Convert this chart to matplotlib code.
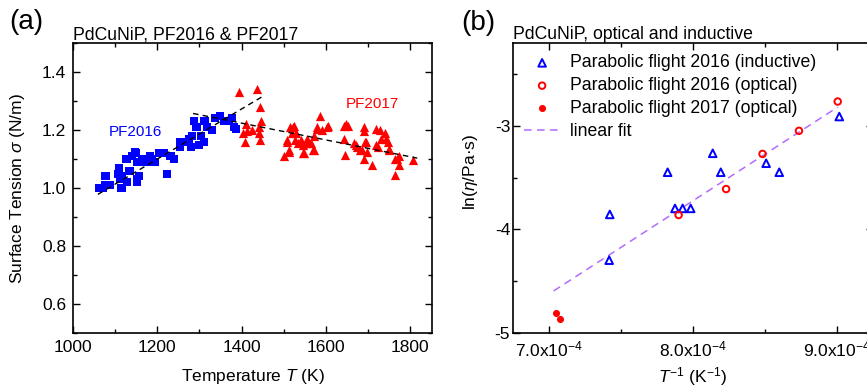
import matplotlib
matplotlib.use("Agg")
import matplotlib.pyplot as plt
from matplotlib.ticker import MultipleLocator, FuncFormatter

plt.rcParams['font.family'] = ['Liberation Sans', 'DejaVu Sans']
plt.rcParams['mathtext.fontset'] = 'custom'
plt.rcParams['mathtext.rm'] = 'Liberation Sans'
plt.rcParams['mathtext.it'] = 'Liberation Sans:italic'
plt.rcParams['font.size'] = 12.5

# --- panel (a): surface tension, PF2016 (blue) and PF2017 (red)
T_2016 = [1062, 1072, 1079, 1088, 1064, 1076, 1076, 1088, 1107, 1109, 1113, 1117,
          1108, 1112, 1116, 1125, 1129, 1133, 1128, 1136, 1141, 1149, 1148, 1152,
          1152, 1153, 1157, 1160, 1163, 1168, 1178, 1183, 1188, 1194, 1204, 1207,
          1216, 1224, 1223, 1231, 1232, 1240, 1254, 1255, 1255, 1267, 1275, 1275,
          1279, 1283, 1287, 1291, 1295, 1299, 1303, 1311, 1312, 1314, 1318, 1330,
          1338, 1350, 1358, 1366, 1370, 1378, 1382, 1386]
sigma_2016 = [1.00, 1.00, 1.04, 1.01, 1.00, 1.01, 1.04, 1.01, 1.05, 1.07, 1.00, 1.04,
              1.07, 1.03, 1.00, 1.10, 1.02, 1.06, 1.10, 1.06, 1.11, 1.12, 1.125, 1.09,
              1.03, 1.02, 1.04, 1.09, 1.10, 1.10, 1.09, 1.11, 1.10, 1.09, 1.12, 1.12,
              1.12, 1.05, 1.05, 1.11, 1.11, 1.10, 1.14, 1.16, 1.16, 1.16, 1.17, 1.165,
              1.14, 1.18, 1.23, 1.21, 1.21, 1.15, 1.18, 1.16, 1.23, 1.23, 1.21, 1.20,
              1.24, 1.25, 1.23, 1.23, 1.23, 1.24, 1.21, 1.205]

T_2017 = [1394, 1436, 1443, 1447, 1410, 1404, 1413, 1424, 1409, 1441, 1443, 1441,
          1500, 1508, 1512, 1516, 1520, 1524, 1527, 1533, 1540, 1546, 1552, 1556,
          1564, 1572, 1570, 1578, 1586, 1591, 1602, 1509, 1513, 1521, 1529, 1545,
          1548, 1560, 1571, 1580, 1604, 1643, 1649, 1652, 1643, 1645, 1666, 1673,
          1682, 1671, 1690, 1691, 1694, 1691, 1698, 1710, 1718, 1720, 1728, 1731,
          1741, 1744, 1749, 1764, 1765, 1773, 1773, 1807, 1687, 1695, 1723, 1747,
          1751, 1769]
sigma_2017 = [1.33, 1.34, 1.28, 1.23, 1.22, 1.19, 1.195, 1.20, 1.16, 1.19, 1.165, 1.21,
              1.11, 1.165, 1.125, 1.21, 1.19, 1.215, 1.165, 1.155, 1.165, 1.12, 1.155, 1.17,
              1.155, 1.18, 1.13, 1.21, 1.25, 1.20, 1.21, 1.16, 1.13, 1.21, 1.19, 1.15,
              1.12, 1.155, 1.13, 1.205, 1.215, 1.215, 1.22, 1.215, 1.17, 1.115, 1.155, 1.14,
              1.13, 1.15, 1.21, 1.195, 1.16, 1.10, 1.125, 1.08, 1.205, 1.15, 1.20, 1.17,
              1.19, 1.17, 1.135, 1.10, 1.045, 1.11, 1.08, 1.095, 1.13, 1.16, 1.14, 1.16,
              1.13, 1.10]

fit_T_2016 = [1059, 1455]
fit_sigma_2016 = [0.978, 1.32]
fit_T_2017 = [1285, 1817]
fit_sigma_2017 = [1.257, 1.103]

# --- panel (b): viscosity vs inverse temperature
invT_ind16 = [7.422e-4, 7.418e-4, 7.824e-4, 7.875e-4, 7.928e-4, 7.984e-4,
              8.137e-4, 8.193e-4, 8.508e-4, 8.599e-4, 9.016e-4]
lneta_ind16 = [-3.855, -4.297, -3.448, -3.797, -3.797, -3.797,
               -3.265, -3.448, -3.361, -3.448, -2.91]
invT_opt16 = [7.900e-4, 8.230e-4, 8.483e-4, 8.736e-4, 9.005e-4]
lneta_opt16 = [-3.861, -3.61, -3.271, -3.048, -2.765]
invT_opt17 = [7.046e-4, 7.077e-4]
lneta_opt17 = [-4.806, -4.861]
fit_invT = [7.032e-4, 9.005e-4]
fit_lneta = [-4.594, -2.819]

fig = plt.figure(figsize=(8.67, 3.91), dpi=100)
ax1 = fig.add_axes([73 / 867, 58 / 391, 359 / 867, 290 / 391])
ax2 = fig.add_axes([513 / 867, 58 / 391, 360 / 867, 290 / 391])

ax1.scatter(T_2016, sigma_2016, marker='s', s=30, color='#0000ff', linewidths=0, zorder=3)
ax1.scatter(T_2017, sigma_2017, marker='^', s=44, color='#ff0000', linewidths=0, zorder=3)
ax1.plot(fit_T_2016, fit_sigma_2016, ls=(0, (4, 3)), color='black', lw=1, zorder=4)
ax1.plot(fit_T_2017, fit_sigma_2017, ls=(0, (4, 3)), color='black', lw=1, zorder=4)
ax1.text(1149, 1.192, 'PF2016', color='#0000ff', ha='center', va='center', fontsize=11)
ax1.text(1711, 1.288, 'PF2017', color='#ff0000', ha='center', va='center', fontsize=11)
ax1.set_xlim(1000, 1852)
ax1.set_ylim(0.5, 1.5)
ax1.xaxis.set_major_locator(MultipleLocator(200))
ax1.xaxis.set_minor_locator(MultipleLocator(100))
ax1.set_yticks([0.6, 0.8, 1.0, 1.2, 1.4])
ax1.yaxis.set_minor_locator(MultipleLocator(0.1))
ax1.yaxis.set_major_formatter(FuncFormatter(lambda v, p: '%.1f' % v))
ax1.set_xlabel('Temperature $T$ (K)')
ax1.set_ylabel('Surface Tension $\\sigma$ (N/m)')
ax1.set_title('PdCuNiP, PF2016 & PF2017', loc='left', pad=2, fontsize=12.7)

ax2.scatter(invT_ind16, lneta_ind16, marker='^', s=30, facecolors='none',
            edgecolors='#0000ff', linewidths=1.4, zorder=3, label='Parabolic flight 2016 (inductive)')
ax2.scatter(invT_opt16, lneta_opt16, marker='o', s=22, facecolors='none',
            edgecolors='#ff0000', linewidths=1.4, zorder=3, label='Parabolic flight 2016 (optical)')
ax2.scatter(invT_opt17, lneta_opt17, marker='o', s=26, color='#ff0000',
            linewidths=0, zorder=3, label='Parabolic flight 2017 (optical)')
ax2.plot(fit_invT, fit_lneta, ls=(0, (5, 3.5)), color='#b36bff', lw=1.1, label='linear fit')
ax2.set_xlim(6.75e-4, 9.25e-4)
ax2.set_ylim(-5, -2.2)
ax2.xaxis.set_major_locator(MultipleLocator(1e-4))
ax2.xaxis.set_minor_locator(MultipleLocator(0.5e-4))
ax2.xaxis.set_major_formatter(FuncFormatter(lambda v, p: '%.1fx10$^{-4}$' % (v * 1e4)))
ax2.set_yticks([-5, -4, -3])
ax2.yaxis.set_minor_locator(MultipleLocator(0.5))
ax2.yaxis.set_major_formatter(FuncFormatter(lambda v, p: '%d' % v))
ax2.set_xlabel('$T^{-1}$ (K$^{-1}$)')
ax2.set_ylabel('ln($\\eta$/Pa·s)')
ax2.set_title('PdCuNiP, optical and inductive', loc='left', pad=2, fontsize=12.7)
ax2.legend(loc='upper left', frameon=False, fontsize=12.7, handlelength=2.0,
           handletextpad=0.6, borderaxespad=0.3, borderpad=0.35, labelspacing=0.33)

for ax in (ax1, ax2):
    ax.tick_params(which='both', direction='in', top=True, right=True, labelsize=12.5)
    ax.tick_params(which='major', length=5, width=1)
    ax.tick_params(which='minor', length=3, width=1)
    for sp in ax.spines.values():
        sp.set_linewidth(1.2)
    ax.tick_params(axis='x', pad=5)
    ax.xaxis.label.set_va('center')
    ax.yaxis.label.set_va('center')

ax1.tick_params(axis='y', pad=5)
ax2.tick_params(axis='y', pad=2)
ax1.xaxis.set_label_coords(0.5, (333 - 376) / 290)
ax2.xaxis.set_label_coords(0.5, (333 - 377) / 290)
ax1.yaxis.set_label_coords((18 - 73) / 359, 0.5)
ax2.yaxis.set_label_coords((470 - 513) / 360, 0.555)

fig.text(9 / 867, 1 - 22 / 391, '(a)', fontsize=20, va='center', ha='left')
fig.text(461 / 867, 1 - 23 / 391, '(b)', fontsize=20, va='center', ha='left')

fig.savefig('out.png', dpi=100)
